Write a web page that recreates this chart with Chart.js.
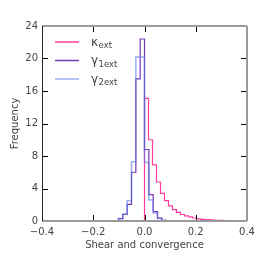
<!DOCTYPE html>
<html><head><meta charset="utf-8">
<script src="https://cdn.jsdelivr.net/npm/chart.js@4/dist/chart.umd.min.js"></script>
<style>html,body{margin:0;padding:0;background:#fff;} canvas{display:block}</style>
</head><body>
<canvas id="c" width="260" height="260"></canvas>
<script>
// ---- data ----
const kappaStart = 0.0;
const kappaWidth = 0.0156;
const kappaCounts = [13.4, 15.1, 10.0, 6.9, 4.8, 3.4, 2.5, 1.85, 1.4, 1.05, 0.8, 0.62, 0.5, 0.37, 0.27, 0.2, 0.16, 0.13, 0.1, 0.08, 0.07, 0.05, 0.04, 0.03, 0.02];
const gammaStart = -0.1014;
const gammaWidth = 0.0169;
const gamma1Counts = [0.05, 0.3, 0.8, 2.05, 6.0, 17.5, 22.4, 8.8, 3.25, 1.15, 0.35, 0.08];
const gamma2Counts = [0.05, 0.3, 0.85, 2.5, 7.3, 20.2, 20.2, 7.2, 2.6, 1.0, 0.3, 0.07];
const xTicks = [-0.4, -0.2, 0.0, 0.2, 0.4];
const xTickLabels = ['\u22120.4', '\u22120.2', '0.0', '0.2', '0.4'];
const yTicks = [0, 4, 8, 12, 16, 20, 24];
const seriesSymbols = ['\u03ba', '\u03b3', '\u03b3'];
const seriesSubs = ['ext', '1ext', '2ext'];
const seriesColors = ['#ff3d9e', '#7438b0', 'rgba(90,120,235,0.6)'];

function stepPoints(start, width, counts) {
  const pts = [{x: start, y: 0}];
  counts.forEach((c, i) => pts.push({x: start + i * width, y: c}));
  pts.push({x: start + counts.length * width, y: 0});
  return pts;
}

const FONT = "'DejaVu Sans', sans-serif";
const TXT = '#444';
Chart.defaults.font.family = FONT;

const framePlugin = {
  id: 'frame',
  afterDatasetsDraw(chart) {
    const {ctx, chartArea: {left, right, top, bottom}, scales: {x, y}} = chart;
    ctx.save();
    ctx.strokeStyle = '#000';
    ctx.lineWidth = 1;
    const L = 6;
    const seg = (a, b, c, d) => { ctx.beginPath(); ctx.moveTo(a, b); ctx.lineTo(c, d); ctx.stroke(); };
    xTicks.forEach(v => {
      const px = Math.round(x.getPixelForValue(v)) + 0.5;
      seg(px, bottom, px, bottom - L);
      seg(px, top, px, top + L);
    });
    yTicks.forEach(v => {
      const py = Math.round(y.getPixelForValue(v)) + 0.5;
      seg(left, py, left + L, py);
      seg(right, py, right - L, py);
    });
    ctx.strokeStyle = '#9a9a9a';
    ctx.lineWidth = 2;
    seg(left, top, right, top);
    seg(right, top, right, bottom);
    seg(left, bottom, right, bottom);
    ctx.strokeStyle = '#222';
    ctx.lineWidth = 1;
    seg(left + 0.5, top, left + 0.5, bottom);

    // legend
    const rowsY = [42, 60.5, 79];
    seriesSymbols.forEach((s, i) => {
      ctx.strokeStyle = seriesColors[i];
      ctx.lineWidth = 1.5;
      seg(55, rowsY[i], 79, rowsY[i]);
      ctx.fillStyle = TXT;
      ctx.font = '12px ' + FONT;
      ctx.textBaseline = 'alphabetic';
      ctx.textAlign = 'left';
      ctx.fillText(s, 91, rowsY[i] + 3.5);
      const w = ctx.measureText(s).width;
      ctx.font = '8.5px ' + FONT;
      ctx.fillText(seriesSubs[i], 91 + w + 0.5, rowsY[i] + 6);
    });
    ctx.restore();
  }
};

new Chart(document.getElementById('c'), {
  type: 'line',
  data: {
    datasets: [
      {data: stepPoints(kappaStart, kappaWidth, kappaCounts), borderColor: seriesColors[0], borderWidth: 1.2, stepped: 'after', pointRadius: 0, fill: false, order: 3},
      {data: stepPoints(gammaStart, gammaWidth, gamma1Counts), borderColor: seriesColors[1], borderWidth: 1.2, stepped: 'after', pointRadius: 0, fill: false, order: 2},
      {data: stepPoints(gammaStart, gammaWidth, gamma2Counts), borderColor: seriesColors[2], borderWidth: 1.5, stepped: 'after', pointRadius: 0, fill: false, order: 1}
    ]
  },
  options: {
    responsive: false,
    animation: false,
    events: [],
    layout: {padding: {left: 0, top: 26, right: 13, bottom: 0}},
    plugins: {legend: {display: false}, tooltip: {enabled: false}},
    scales: {
      x: {
        type: 'linear', min: -0.4, max: 0.4,
        grid: {display: false, drawTicks: false},
        border: {display: false},
        afterBuildTicks: s => { s.ticks = xTicks.map(v => ({value: v})); },
        afterFit: s => { s.height = 39; },
        ticks: {padding: 5, color: TXT, font: {family: FONT, size: 10}, maxRotation: 0,
          callback: (v) => xTickLabels[xTicks.findIndex(t => Math.abs(t - v) < 1e-9)]},
        title: {display: true, text: 'Shear and convergence', color: TXT, font: {family: FONT, size: 10}, padding: {top: 0, bottom: 9}}
      },
      y: {
        type: 'linear', min: 0, max: 24,
        grid: {display: false, drawTicks: false},
        border: {display: false},
        afterBuildTicks: s => { s.ticks = yTicks.map(v => ({value: v})); },
        afterFit: s => { s.width = 42; },
        ticks: {padding: 4, color: TXT, font: {family: FONT, size: 10}},
        title: {display: true, text: 'Frequency', color: TXT, font: {family: FONT, size: 10}, padding: {top: 9, bottom: 0}}
      }
    }
  },
  plugins: [framePlugin]
});
</script>
</body></html>
